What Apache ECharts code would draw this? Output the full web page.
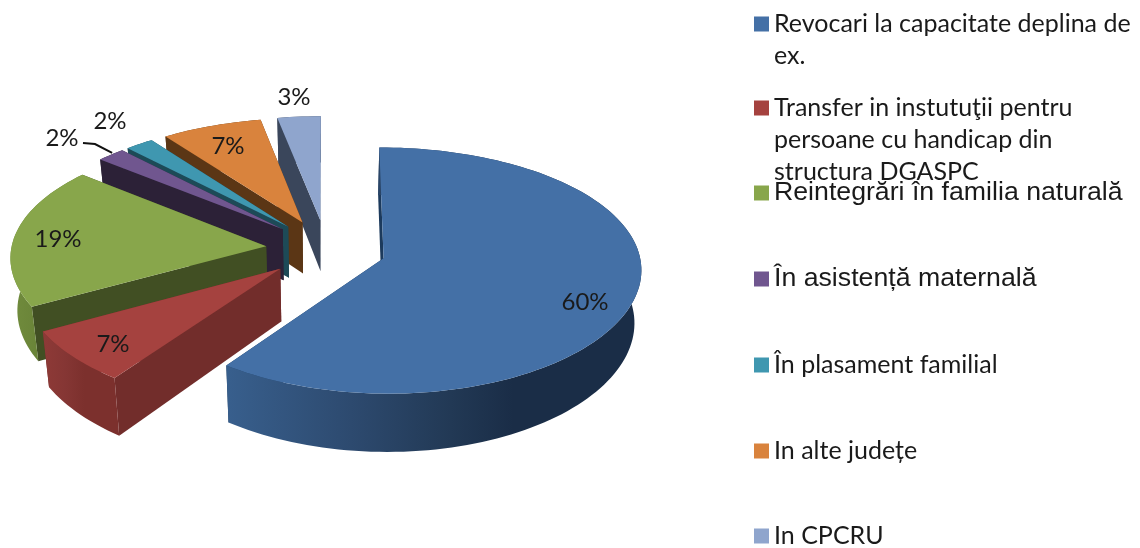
<!DOCTYPE html>
<html>
<head>
<meta charset="utf-8">
<style>
html, body { margin: 0; padding: 0; background: #fff; }
#chart { width: 1140px; height: 548px; }
</style>
<script src="https://cdn.jsdelivr.net/npm/echarts@6/dist/echarts.min.js"></script>
</head>
<body>
<div id="chart"></div>
<script>
// data
var categories = [
	'Revocari la capacitate deplina de\nex.',
	'Transfer in instutuţii pentru\npersoane cu handicap din\nstructura DGASPC',
	'Reintegrări în familia naturală',
	'În asistență maternală',
	'În plasament familial',
	'In alte județe',
	'In CPCRU'
];
var values = [60, 7, 19, 2, 2, 7, 3];

// colours per slice
var topColors = ['#4470a6', '#a5423f', '#88a64b', '#70568f', '#3f97b0', '#d9833d', '#8fa5cd'];
var wallColors = ['#1c3a5c', '#722d2b', '#414f23', '#2c2137', '#1d4a57', '#5b3615', '#3a465b'];
var rimColors = [
	['#385f8d', '#2d4a6f', '#223955', '#1a2d47'],
	['#8e3a37', '#853634', '#7c302d', '#7c302d'],
	['#718c3d', '#6b8539', '#627a34', '#627a34'],
	['#2c2137', '#2c2137', '#2c2137', '#2c2137'],
	['#1d4a57', '#1d4a57', '#1d4a57', '#1d4a57'],
	['#5b3615', '#5b3615', '#5b3615', '#5b3615'],
	['#3a465b', '#3a465b', '#3a465b', '#3a465b']
];

// centres of the percent labels and of the legend rows, in pixels
var labelCentres = [[585, 302], [113, 344], [58, 239], [62, 138], [110, 121], [228, 146], [294, 97]];
var legendCentres = [24, 108, 193, 279, 365, 451, 536];
var legendFonts = ['Lato', 'Lato', 'Liberation Sans', 'Liberation Sans', 'Lato', 'Lato', 'Lato'];
var legendSizes = [25, 25, 26.7, 26.7, 25, 25, 25];

// the projection of the tilted pie
var CX = 326, CY = 249;
var SCALE_X = 255, SCALE_Y = 120;
var PERSPECTIVE_X = 0.08, PERSPECTIVE_Y = 0.1;
var EXPLODE_X = 0.236, EXPLODE_Y = 0.245;
var DEPTH = 52, SHRINK = 0.022;
var LINE_HEIGHT = 32;

function project(u, v) {
	return [CX + SCALE_X * u / (1 - PERSPECTIVE_X * v), CY + SCALE_Y * v / (1 - PERSPECTIVE_Y * v)];
}
function projectBottom(u, v) {
	var p = project(u, v);
	return [CX + (p[0] - CX) * (1 - SHRINK), p[1] + DEPTH / (1 - PERSPECTIVE_Y * v)];
}

var total = values.reduce(function (a, b) { return a + b; }, 0);
var startAngles = [];
values.reduce(function (sum, val, i) {
	startAngles[i] = sum / total * Math.PI * 2;
	return sum + val;
}, 0);

function sliceGeometry(i) {
	var a1 = startAngles[i];
	var a2 = a1 + values[i] / total * Math.PI * 2;
	var mid = (a1 + a2) / 2;
	var ou = EXPLODE_X * Math.sin(mid);
	var ov = -EXPLODE_Y * Math.cos(mid);
	var steps = Math.max(4, Math.ceil((a2 - a1) / 0.03));
	var rim = [];
	for (var s = 0; s <= steps; s++) {
		var a = a1 + (a2 - a1) * s / steps;
		rim.push([ou + Math.sin(a), ov - Math.cos(a)]);
	}
	return { origin: [ou, ov], rim: rim };
}

function polygon(points, fill) {
	return { type: 'polygon', shape: { points: points }, style: { fill: fill } };
}

function wall(origin, end, fill) {
	return polygon([
		project(origin[0], origin[1]),
		project(end[0], end[1]),
		projectBottom(end[0], end[1]),
		projectBottom(origin[0], origin[1])
	], fill);
}

function renderSlice(i) {
	return function () {
		var g = sliceGeometry(i);
		var rimTop = g.rim.map(function (p) { return project(p[0], p[1]); });
		var rimBottom = g.rim.map(function (p) { return projectBottom(p[0], p[1]); });
		var children = [];

		children.push(wall(g.origin, g.rim[g.rim.length - 1], wallColors[i]));
		children.push(wall(g.origin, g.rim[0], wallColors[i]));

		// side shading gets darker from left to right
		var stops = rimColors[i];
		var gradient = new echarts.graphic.LinearGradient(0, 0, 1, 0, [
			{ offset: 0, color: stops[0] },
			{ offset: 0.3, color: stops[1] },
			{ offset: 0.54, color: stops[2] },
			{ offset: 0.69, color: stops[3] }
		]);
		children.push(polygon(rimTop.concat(rimBottom.slice().reverse()), gradient));

		children.push(polygon([project(g.origin[0], g.origin[1])].concat(rimTop), topColors[i]));

		children.push({
			type: 'text',
			x: labelCentres[i][0],
			y: labelCentres[i][1],
			style: {
				text: values[i] + '%',
				fontFamily: 'Lato',
				fontSize: 24,
				fill: '#1a1a1a',
				align: 'center',
				verticalAlign: 'middle'
			}
		});

		// only the purple slice has a leader line
		if (i === 3) {
			var m = rimTop[Math.floor(rimTop.length / 2)];
			children.push({
				type: 'polyline',
				shape: { points: [[83, 143], [95, 144], [m[0] - 1, m[1] - 1]] },
				style: { stroke: '#111', lineWidth: 2, fill: null }
			});
		}
		return { type: 'group', children: children };
	};
}

// a square at the first text line, stretched over the whole multi-line row
function legendIcon(lines) {
	var h = lines * LINE_HEIGHT;
	var top = (LINE_HEIGHT - 15) / 2;
	return 'path://M0 0H0.01V0.01H0Z M0 ' + top + 'H15V' + (top + 15) + 'H0Z M0 ' + (h - 0.01) + 'H0.01V' + h + 'H0Z';
}

var series = [], legends = [];
categories.forEach(function (name, i) {
	var lines = name.split('\n').length;
	series.push({
		type: 'custom',
		name: name,
		coordinateSystem: 'none',
		z: categories.length - i + 1,
		silent: true,
		itemStyle: { color: topColors[i] },
		renderItem: renderSlice(i),
		data: [[values[i]]]
	});
	legends.push({
		data: [name],
		left: 754,
		top: legendCentres[i] - LINE_HEIGHT / 2,
		padding: 0,
		orient: 'vertical',
		selectedMode: false,
		itemWidth: 15,
		itemHeight: lines > 1 ? lines * LINE_HEIGHT : 15,
		icon: lines > 1 ? legendIcon(lines) : 'rect',
		textStyle: {
			fontFamily: legendFonts[i],
			fontSize: legendSizes[i],
			lineHeight: LINE_HEIGHT,
			color: '#1a1a1a'
		}
	});
});

var chart = echarts.init(document.getElementById('chart'));
chart.setOption({
	animation: false,
	backgroundColor: '#fff',
	legend: legends,
	series: series
});
</script>
</body>
</html>
